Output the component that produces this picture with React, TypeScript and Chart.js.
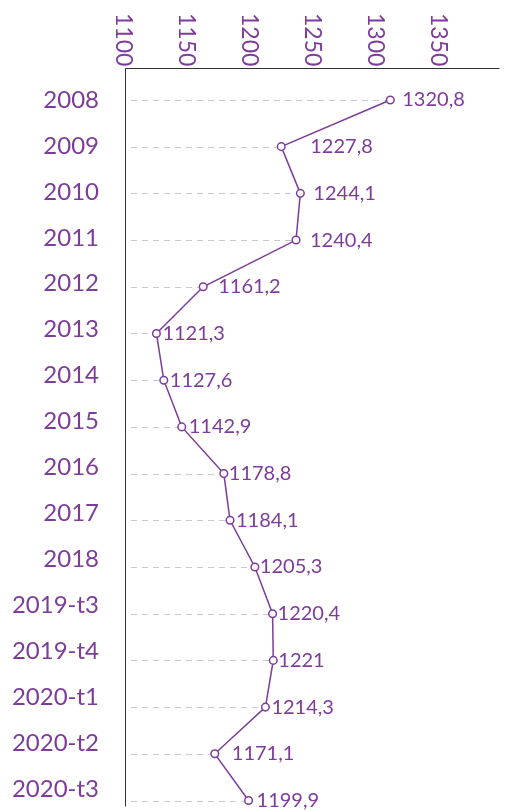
import React, { useEffect, useRef } from "react";
import { Chart, registerables } from "chart.js";

Chart.register(...registerables);

const categories = [
  "2008", "2009", "2010", "2011", "2012", "2013", "2014", "2015",
  "2016", "2017", "2018", "2019-t3", "2019-t4", "2020-t1", "2020-t2", "2020-t3",
];
const values = [
  1320.8, 1227.8, 1244.1, 1240.4, 1161.2, 1121.3, 1127.6, 1142.9,
  1178.8, 1184.1, 1205.3, 1220.4, 1221, 1214.3, 1171.1, 1199.9,
];
const tickValues = [1100, 1150, 1200, 1250, 1300, 1350];

// label gap (px) between each point and its value label
const labelGaps = [12, 29, 13, 14, 15, 6, 6, 7, 5, 6, 5, 5, 5, 6, 17, 8];

const PURPLE = "#7d3c99";
const FONT = "Lato, 'Open Sans', sans-serif";

const fmt = (v: number) => String(v).replace(".", ",");

const decorPlugin = {
  id: "decor",
  beforeDatasetsDraw(chart: any) {
    const { ctx, chartArea, scales } = chart;
    const x = scales.x;
    const y = scales.y;
    ctx.save();
    ctx.strokeStyle = "#c9c9c9";
    ctx.lineWidth = 1;
    ctx.setLineDash([6, 5]);
    values.forEach((v, i) => {
      const py = Math.round(y.getPixelForValue(i)) + 0.5;
      const px = x.getPixelForValue(v) - 4;
      ctx.beginPath();
      ctx.moveTo(chartArea.left + 6, py);
      ctx.lineTo(px, py);
      ctx.stroke();
    });
    ctx.setLineDash([]);
    ctx.strokeStyle = "#333";
    ctx.lineWidth = 1;
    ctx.beginPath();
    ctx.moveTo(chartArea.left + 0.5, chartArea.bottom);
    ctx.lineTo(chartArea.left + 0.5, chartArea.top + 0.5);
    ctx.lineTo(chartArea.right, chartArea.top + 0.5);
    ctx.stroke();
    ctx.restore();
  },
  afterDatasetsDraw(chart: any) {
    const { ctx, chartArea, scales } = chart;
    const x = scales.x;
    const y = scales.y;
    const xt = scales.xTicks;
    const yl = scales.yLabels;
    ctx.save();
    ctx.fillStyle = PURPLE;
    ctx.font = `400 23px ${FONT}`;
    ctx.textAlign = "left";
    ctx.textBaseline = "middle";
    tickValues.forEach((t) => {
      const px = xt.getPixelForValue(t);
      ctx.save();
      ctx.translate(px, 13);
      ctx.rotate(Math.PI / 2);
      ctx.fillText(String(t), 0, 0);
      ctx.restore();
    });
    ctx.font = `400 24px ${FONT}`;
    ctx.textAlign = "right";
    categories.forEach((c, i) => {
      ctx.fillText(c, chartArea.left - 26, yl.getPixelForValue(i));
    });
    ctx.font = `400 20px ${FONT}`;
    ctx.textAlign = "left";
    values.forEach((v, i) => {
      ctx.fillText(fmt(v), x.getPixelForValue(v) + labelGaps[i], y.getPixelForValue(i));
    });
    ctx.restore();
  },
};

export default function App() {
  const ref = useRef<HTMLCanvasElement | null>(null);
  useEffect(() => {
    if (!ref.current) return;
    const chart = new Chart(ref.current, {
      type: "line",
      data: {
        datasets: [
          {
            data: values.map((v, i) => ({ x: v, y: i })),
            borderColor: PURPLE,
            borderWidth: 1.5,
            pointRadius: 3.8,
            pointBorderWidth: 1.5,
            pointBackgroundColor: "#fff",
            pointBorderColor: PURPLE,
            tension: 0,
            clip: false as any,
          },
        ],
      },
      options: {
        animation: false,
        responsive: false,
        layout: { padding: { left: 125, top: 68, right: 0, bottom: 4 } },
        plugins: { legend: { display: false }, tooltip: { enabled: false } },
        scales: {
          x: { type: "linear", axis: "x", position: "top", min: 1094.5, max: 1414, display: false },
          xTicks: { type: "linear", axis: "x", position: "top", min: 1101.3, max: 1398, display: false },
          y: { type: "linear", axis: "y", reverse: true, min: -0.684, max: 15.128, display: false },
          yLabels: { type: "linear", axis: "y", reverse: true, min: -0.695, max: 15.375, display: false },
        },
      },
      plugins: [decorPlugin],
    });
    return () => chart.destroy();
  }, []);
  return (
    <div style={{ position: "absolute", left: 0, top: 0, width: 505, height: 812, background: "#fff" }}>
      <canvas ref={ref} width={505} height={812} style={{ display: "block" }} />
    </div>
  );
}
